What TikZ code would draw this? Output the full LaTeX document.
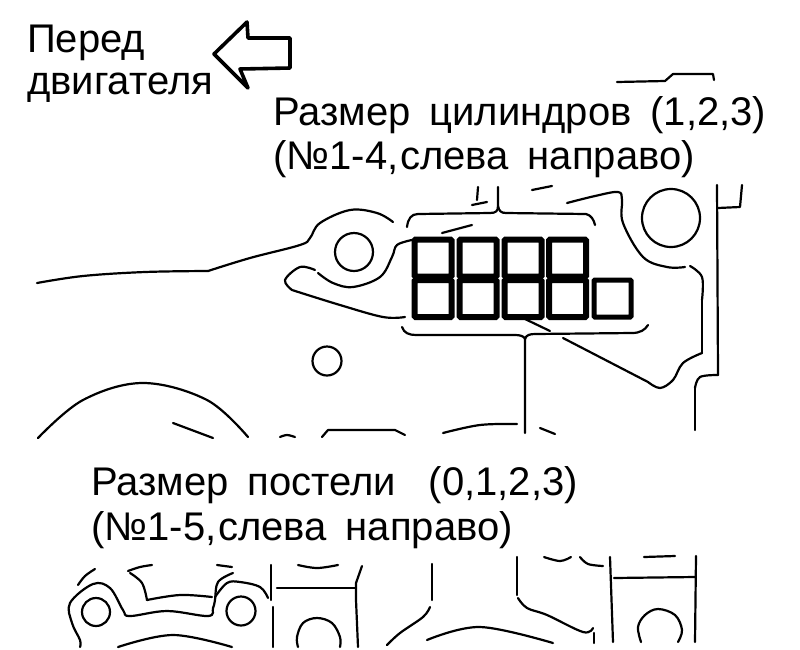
\documentclass[tikz,border=0pt]{standalone}
\usepackage{fontspec}
\setmainfont[WordSpace=1.7]{Liberation Sans}
\tikzset{
  label text/.style={font=\fontsize{40}{46}\selectfont,anchor=base west,inner sep=0pt},
  engine line/.style={line width=2.2pt,line cap=round,line join=round},
  size box/.style={draw,line width=6pt,rounded corners=1pt,minimum size=37pt,inner sep=0pt}
}
\newcommand{\curve}[1]{\draw[engine line] plot[smooth,tension=0.6] coordinates {#1};}
\begin{document}
\begin{tikzpicture}[x=1pt,y=-1pt]
    \useasboundingbox (0,0) rectangle (800,649);

    % texts
    \node[label text] at (27,52) (front1) {Перед};
    \node[label text] at (27,94) (front2) {двигателя};
    \node[label text] at (273,125) (cyl1) {Размер цилиндров (1,2,3)};
    \node[label text] at (273,169) (cyl2) {(№1-4,\hspace{2pt}слева направо)};
    \node[label text] at (91,495) (bed1) {Размер постели\hspace{14pt} (0,1,2,3)};
    \node[label text] at (91,540) (bed2) {(№1-5,\hspace{2pt}слева направо)};

    % arrow
    \draw[line width=3.6pt,line join=round] (214,54) -- (247,22) -- (248,38) -- (290,38) -- (290,68) -- (240,69) -- (248,88) -- cycle;

    % size boxes
    \node[size box] at (433,258) (c1) {};
    \node[size box] at (478,258) (c2) {};
    \node[size box] at (523,258) (c3) {};
    \node[size box] at (567.5,258) (c4) {};
    \node[size box] at (433,298.5) (b1) {};
    \node[size box] at (478,298.5) (b2) {};
    \node[size box] at (523,298.5) (b3) {};
    \node[size box] at (567.5,298.5) (b4) {};
    \node[size box,line width=5pt] at (612.5,298.5) (b5) {};

    % upper brace and lower brace
    \draw[engine line] (407,227) .. controls (408,219) and (411,214) .. (418,214) -- (490,213) .. controls (496,213) and (498,211) .. (498,206) -- (498,187);
    \draw[engine line] (498,206) .. controls (499,211) and (501,213) .. (506,213) -- (586,214) .. controls (591,215) and (594,220) .. (595,225);
    \draw[engine line] (402,327) .. controls (404,333) and (409,335) .. (416,335) -- (515,335) .. controls (520,335) and (524,336) .. (525,339) -- (525,433);
    \draw[engine line] (525,339) .. controls (526,335) and (530,334) .. (535,334) -- (632,333) .. controls (640,333) and (645,330) .. (648,325);

    % engine outline, upper part
    \curve{(37,283) (83,276) (145,272) (208,271)}
    \curve{(208,271) (250,258) (300,245) (310,238) (320,223) (350,210) (377,213) (393,222)}
    \curve{(318,273) (333,283) (353,287) (380,277) (392,257) (397,245) (412,240)}
    \curve{(315,270) (300,267) (285,280) (292,290)}
    \curve{(292,290) (340,305) (383,317) (405,317)}
    \draw[line width=2.2pt] (354,252) circle (19);
    \draw[line width=2.2pt] (327,361) circle (14.5);
    \draw[line width=2.2pt] (671,218) circle (29);
    \draw[engine line] (442,233) -- (472,225);
    \draw[engine line] (472,205) -- (487,202);
    \draw[engine line] (478,187) -- (477,200);
    \draw[engine line] (532,190) -- (552,186);
    \curve{(567,203) (595,196) (618,192) (622,200) (623,223) (643,257) (667,267) (685,267)}
    \curve{(690,266) (702,277) (702,300)}
    \draw[engine line] (702,300) -- (702,353);
    \curve{(702,353) (683,363) (673,380) (660,388) (648,382)}
    \draw[engine line] (648,382) -- (563,338);
    \draw[engine line] (525,319) -- (550,331);
    \draw[engine line] (717,185) -- (718,375);
    \curve{(718,375) (700,377) (695,388)}
    \draw[engine line] (695,388) -- (695,430);
    \draw[engine line] (718,208) -- (740,207) -- (742,185);
    \draw[engine line] (617,82) -- (665,81) -- (673,74) -- (713,74) -- (714,80);

    % lower part of the upper view
    \curve{(38,438) (83,400) (143,383) (207,400) (248,437)}
    \draw[engine line] (173,423) -- (213,438);
    \curve{(280,437) (287,435) (295,437)}
    \draw[engine line] (322,437) -- (328,430) -- (395,430) -- (405,435);
    \curve{(443,433) (480,425) (517,424)}
    \draw[engine line] (540,428) -- (555,434);

    % bottom view
    \curve{(78,585) (85,576) (95,569)}
    \curve{(128,571) (140,567) (152,565)}
    \curve{(130,573) (142,583) (147,600)}
    \curve{(147,600) (180,595) (212,597)}
    \draw[engine line] (217,565) -- (232,567);
    \curve{(233,573) (218,582) (215,600) (213,608) (208,616) (167,611) (130,616) (123,610) (110,588) (93,584) (70,603) (72,623) (80,640) (80,647)}
    \curve{(215,597) (227,583) (240,582) (260,587) (268,598)}
    \draw[line width=2.2pt] (96,612) circle (14);
    \draw[line width=2.2pt] (241,611) circle (14.5);
    \draw[engine line] (271,565) -- (271,600);
    \draw[engine line] (273,607) -- (273,647);
    \draw[engine line] (277,588) -- (356,588);
    \draw[engine line] (362,566) -- (356,583) -- (356,600) -- (358,647);
    \curve{(298,565) (317,568) (338,565)}
    \curve{(298,647) (297,637) (303,623) (317,618) (332,623) (340,637) (340,647)}
    \curve{(118,647) (173,635) (232,647)}
    \curve{(387,645) (400,633) (423,617) (430,607)}
    \draw[engine line] (432,600) -- (432,564);
    \curve{(427,640) (480,627) (553,643)}
    \draw[engine line] (517,557) -- (517,595);
    \curve{(518,598) (527,608) (547,615) (583,632) (593,628)}
    \draw[engine line] (594,633) -- (594,643);
    \curve{(544,557) (560,561) (571,557)}
    \curve{(580,557) (588,564) (603,566)}
    \draw[engine line] (610,557) -- (613,642);
    \draw[engine line] (614,578) -- (695,577);
    \draw[engine line] (696,556) -- (695,642);
    \draw[engine line] (644,557) -- (675,556);
    \curve{(641,642) (638,627) (645,615) (658,609) (675,615) (682,630) (678,642)}
\end{tikzpicture}
\end{document}
